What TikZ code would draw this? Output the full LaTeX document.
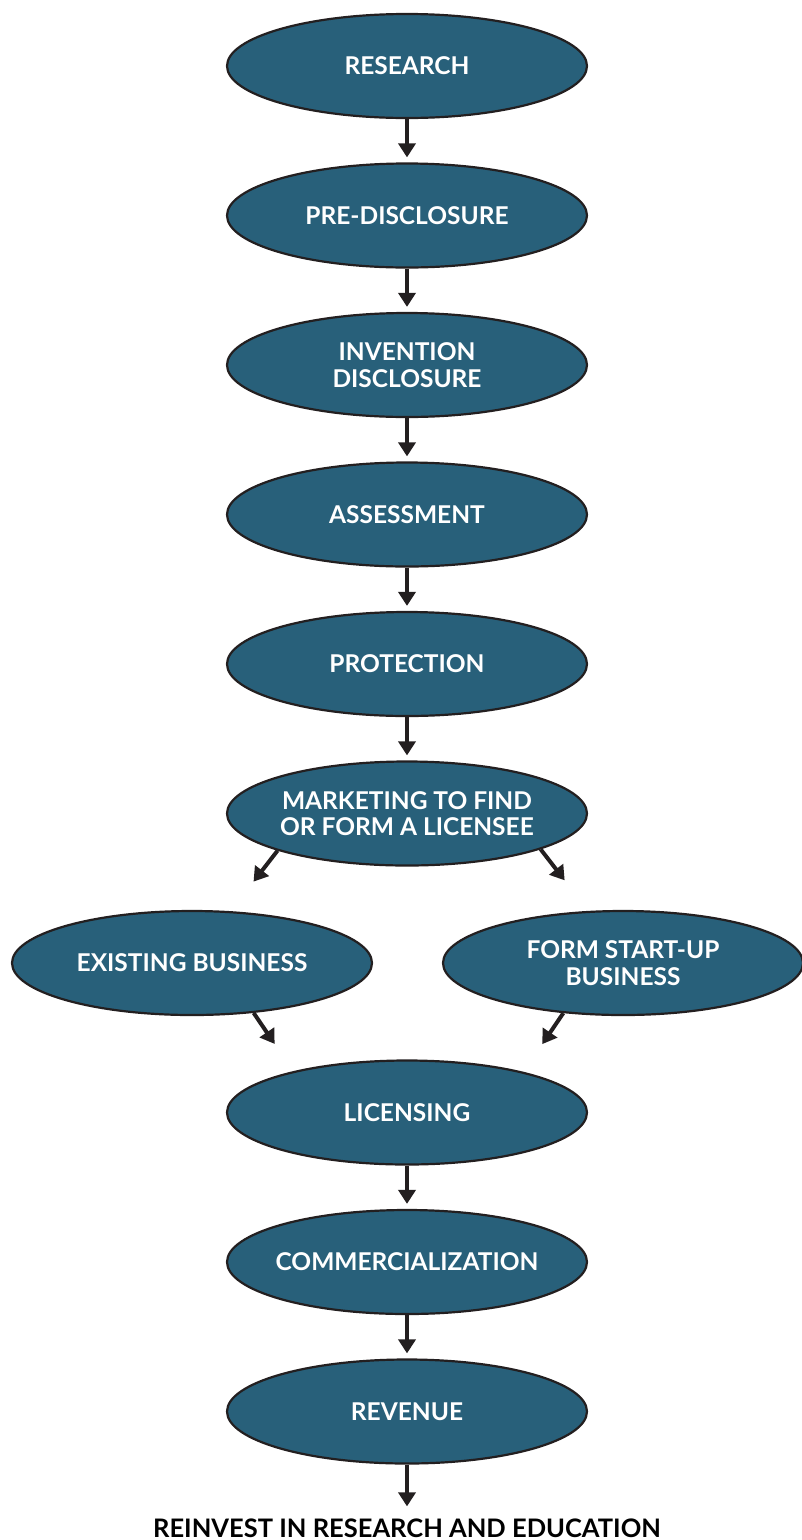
\documentclass[tikz,border=0pt]{standalone}
\usepackage{fontspec}
\setmainfont{Lato}
\usetikzlibrary{arrows.meta,calc,shapes.geometric}

\definecolor{stepblue}{RGB}{40,96,122}
\definecolor{outline}{RGB}{35,31,32}

\begin{document}
\begin{tikzpicture}[
    x=1pt, y=-1pt,
    node distance=149.5pt,
    stage/.style={ellipse,draw=outline,line width=2.2pt,fill=stepblue,text=white,
        minimum width=360pt,minimum height=104pt,inner xsep=-15pt,inner ysep=0pt,
        align=center,font=\bfseries\fontsize{24.5}{26.5}\selectfont},
    flow/.style={draw=outline,line width=4pt,-{Triangle[width=17pt,length=14pt]}}
]
    \useasboundingbox (0,0) rectangle (801,1540);

    % main column of stages
    \node[stage] (research) at (407,66) {RESEARCH};
    \node[stage] (predisc) [below of=research] {PRE-DISCLOSURE};
    \node[stage] (invention) [below of=predisc] {INVENTION\\DISCLOSURE};
    \node[stage] (assess) [below of=invention] {ASSESSMENT};
    \node[stage] (protect) [below of=assess] {PROTECTION};
    \node[stage] (marketing) [below of=protect] {MARKETING TO FIND\\OR FORM A LICENSEE};

    % the two kinds of licensee
    \node[stage] (existing) at (192,963) {EXISTING BUSINESS};
    \node[stage] (startup) at (623,963) {FORM START-UP\\BUSINESS};

    \node[stage] (licensing) [below of=marketing, node distance=299pt] {LICENSING};
    \node[stage] (commerce) [below of=licensing] {COMMERCIALIZATION};
    \node[stage] (revenue) [below of=commerce] {REVENUE};

    \node[font=\bfseries\fontsize{25.5}{28}\selectfont, text=black, inner sep=0pt]
        (reinvest) at (407,1528) {REINVEST IN RESEARCH AND EDUCATION};

    % free ends of the short split arrows
    \coordinate (toexisting) at ($(marketing.196)+(-24,31)$);
    \coordinate (tostartup) at ($(marketing.-15)+(24,31)$);
    \coordinate (fromexisting) at ($(existing.-39)+(21,31)$);
    \coordinate (fromstartup) at ($(startup.220)+(-21,31)$);

    % arrows
    \draw[flow, shorten >=5pt] (research) -- (predisc);
    \draw[flow, shorten >=5pt] (predisc) -- (invention);
    \draw[flow, shorten >=5pt] (invention) -- (assess);
    \draw[flow, shorten >=5pt] (assess) -- (protect);
    \draw[flow, shorten >=5pt] (protect) -- (marketing);
    \draw[flow] (marketing.196) -- (toexisting);
    \draw[flow] (marketing.-15) -- (tostartup);
    \draw[flow] (existing.-39) -- (fromexisting);
    \draw[flow] (startup.220) -- (fromstartup);
    \draw[flow, shorten >=5pt] (licensing) -- (commerce);
    \draw[flow, shorten >=5pt] (commerce) -- (revenue);
    \draw[flow, shorten >=12pt] (revenue) -- (reinvest);
\end{tikzpicture}
\end{document}
